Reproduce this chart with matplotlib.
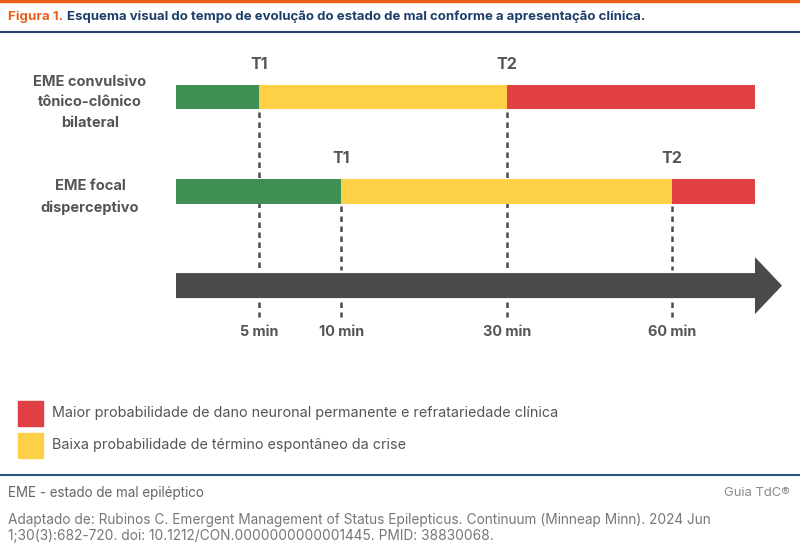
import matplotlib
matplotlib.use("Agg")
import matplotlib.pyplot as plt
from matplotlib.patches import Rectangle

plt.rcParams['font.family'] = ['Inter', 'DejaVu Sans']

# data
row_labels = ["EME convulsivo\ntônico-clônico\nbilateral", "EME focal\ndisperceptivo"]
t1_pos = [1, 2]
t2_pos = [4, 6]
end_pos = 7
time_pos = [1, 2, 4, 6]
time_labels = ["5 min", "10 min", "30 min", "60 min"]
legend_labels = ["Maior probabilidade de dano neuronal permanente e refratariedade clínica",
                 "Baixa probabilidade de término espontâneo da crise"]

green = "#3f8f55"
yellow = "#fdd047"
red = "#e03f43"
dark = "#4a4a4a"
gray_txt = "#555555"
navy = "#1d3e6b"
orange = "#ea5f1c"

W, H = 800, 551
fig = plt.figure(figsize=(W / 100, H / 100), dpi=100)

def fx(px):
    return px / W

def fy(py):
    return 1 - py / H

# main axes covering the figure; x unit = 82.7 px, starts at px 176
unit_x = (755 - 176) / end_pos
unit_y = 94.3
ax = fig.add_axes([0, 0, 1, 1])
ax.set_xlim(-176 / unit_x, (W - 176) / unit_x)
ax.set_ylim((H - 97) / unit_y, -97 / unit_y)
ax.axis("off")

bar_h = 24.5 / unit_y
dash_lw = 1.8

for i in range(len(row_labels)):
    t1, t2 = t1_pos[i], t2_pos[i]
    ax.barh(i, t1, left=0, height=bar_h, color=green, zorder=3)
    ax.barh(i, t2 - t1, left=t1, height=bar_h, color=yellow, zorder=3)
    ax.barh(i, end_pos - t2, left=t2, height=bar_h, color=red, zorder=3)
    for lab, p in (("T1", t1), ("T2", t2)):
        ax.text(p, i - 33 / unit_y, lab, ha="center", va="center", fontsize=11.5,
                fontweight="bold", color=gray_txt)
        ax.plot([p, p], [i + 15 / unit_y, 2 - 16 / unit_y], color=dark, lw=dash_lw,
                linestyle=(0, (2.2, 1.8)), zorder=1)
    fig.text(fx(90), fy(102.5 + 94.3 * i), row_labels[i], ha="center",
             va="center", fontsize=10.5, fontweight="bold", color=gray_txt, linespacing=1.62)

# time arrow
ax.arrow(0, 2, end_pos + 27 / unit_x, 0, width=25 / unit_y, head_width=57 / unit_y,
         head_length=27 / unit_x, length_includes_head=True, color=dark, lw=0, zorder=3)

for p, lab in zip(time_pos, time_labels):
    ax.plot([p, p], [2 + 16 / unit_y, 2 + 31 / unit_y], color=dark, lw=dash_lw,
            linestyle=(0, (2.2, 1.8)), zorder=1)
    ax.text(p, 2 + 46 / unit_y, lab, ha="center", va="center", fontsize=10.4,
            fontweight="bold", color=gray_txt)

# legend
for k, (lab, c) in enumerate(zip(legend_labels, [red, yellow])):
    top = 401 + 32 * k
    fig.patches.append(Rectangle((fx(18), fy(top + 25)), 25 / W, 25 / H, color=c,
                                 transform=fig.transFigure))
    fig.text(fx(52), fy(top + 12), lab, ha="left", va="center", fontsize=10.35, color=gray_txt)

# header
fig.add_artist(plt.Line2D([0, 1], [fy(0.5), fy(0.5)], color=orange, lw=2.5))
fig.text(fx(8), fy(17), "Figura 1.", ha="left", va="center", fontsize=9.6,
         fontweight="bold", color=orange)
fig.text(fx(67), fy(17), "Esquema visual do tempo de evolução do estado de mal conforme a apresentação clínica.",
         ha="left", va="center", fontsize=9.5, fontweight="bold", color=navy)
fig.add_artist(plt.Line2D([0, 1], [fy(32), fy(32)], color=navy, lw=1.5))

# footer
fig.add_artist(plt.Line2D([0, 1], [fy(475), fy(475)], color="#2a5583", lw=1.5))
fig.text(fx(8), fy(493), "EME - estado de mal epiléptico", ha="left", va="center",
         fontsize=9.7, color="#666666")
fig.text(fx(790), fy(493), "Guia TdC®", ha="right", va="center", fontsize=9.4, color="#888888")
fig.text(fx(8), fy(528), "Adaptado de: Rubinos C. Emergent Management of Status Epilepticus. Continuum (Minneap Minn). 2024 Jun\n"
         "1;30(3):682-720. doi: 10.1212/CON.0000000000001445. PMID: 38830068.",
         ha="left", va="center", fontsize=9.85, color="#777777", linespacing=1.25)

fig.savefig("out.png", dpi=100)
